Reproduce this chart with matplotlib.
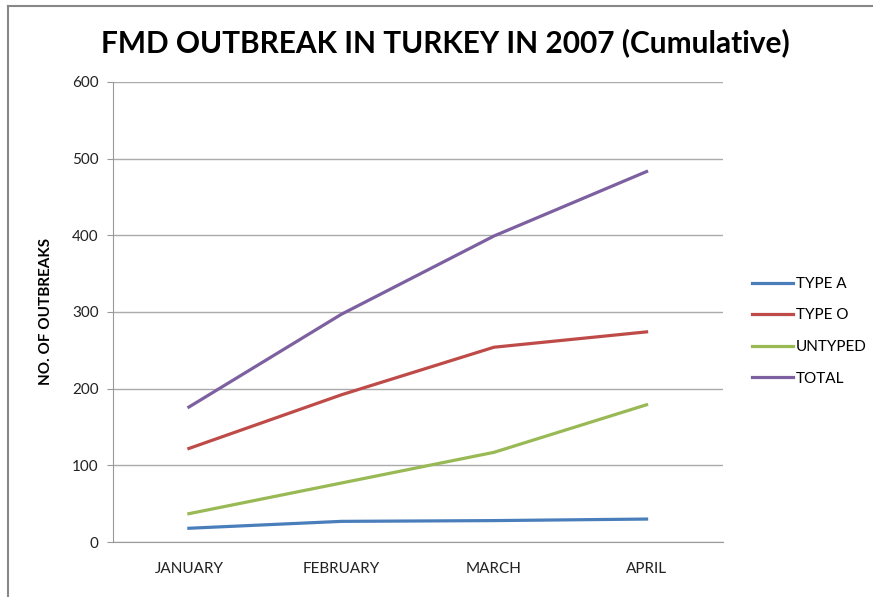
import matplotlib.pyplot as plt
from matplotlib.lines import Line2D

months = ['JANUARY', 'FEBRUARY', 'MARCH', 'APRIL']
type_a = [18, 27, 28, 30]
type_o = [122, 192, 254, 274]
untyped = [37, 77, 117, 179]
total = [176, 297, 399, 483]

plt.rcParams['font.family'] = ['Lato', 'DejaVu Sans']

fig = plt.figure(figsize=(8.73, 5.97), dpi=100)
ax = fig.add_axes([0.129, 0.092, 0.699, 0.771])

x = range(len(months))
ax.plot(x, type_a, color='#4A7EBB', lw=2.3, label='TYPE A')
ax.plot(x, type_o, color='#BE4B48', lw=2.3, label='TYPE O')
ax.plot(x, untyped, color='#98B954', lw=2.3, label='UNTYPED')
ax.plot(x, total, color='#7D60A0', lw=2.3, label='TOTAL')

ax.set_xlim(-0.5, 3.5)
ax.set_ylim(0, 600)
ax.set_yticks(range(0, 601, 100))
ax.set_xticks(list(x))
ax.set_xticklabels(months)
ax.tick_params(axis='x', length=0, pad=14, labelsize=11, colors='#222222')
ax.tick_params(axis='y', length=4, color='#999999', pad=6, labelsize=11, colors='#222222')
ax.grid(axis='y', color='#AAAAAA', lw=1)
ax.set_axisbelow(True)
for s in ['top', 'right']:
    ax.spines[s].set_visible(False)
for s in ['left', 'bottom']:
    ax.spines[s].set_color('#999999')

ax.set_ylabel('NO. OF OUTBREAKS', fontsize=11, fontweight='bold', labelpad=14)

fig.text(0.51, 0.928, 'FMD OUTBREAK IN TURKEY IN 2007 (Cumulative)', ha='center', va='center',
         fontsize=21.5, fontweight='bold')

ax.legend(loc='center left', bbox_to_anchor=(1.025, 0.458), frameon=False, fontsize=11,
          handlelength=2.7, handletextpad=0.2, labelspacing=1.15)

# frame only on top and left edges, like the cropped screenshot
fig.lines.append(Line2D([0.009, 0.009], [0, 0.99], transform=fig.transFigure, color='#888888', lw=1.5))
fig.lines.append(Line2D([0.009, 1], [0.99, 0.99], transform=fig.transFigure, color='#888888', lw=1.5))

fig.savefig('out.png', dpi=100)
